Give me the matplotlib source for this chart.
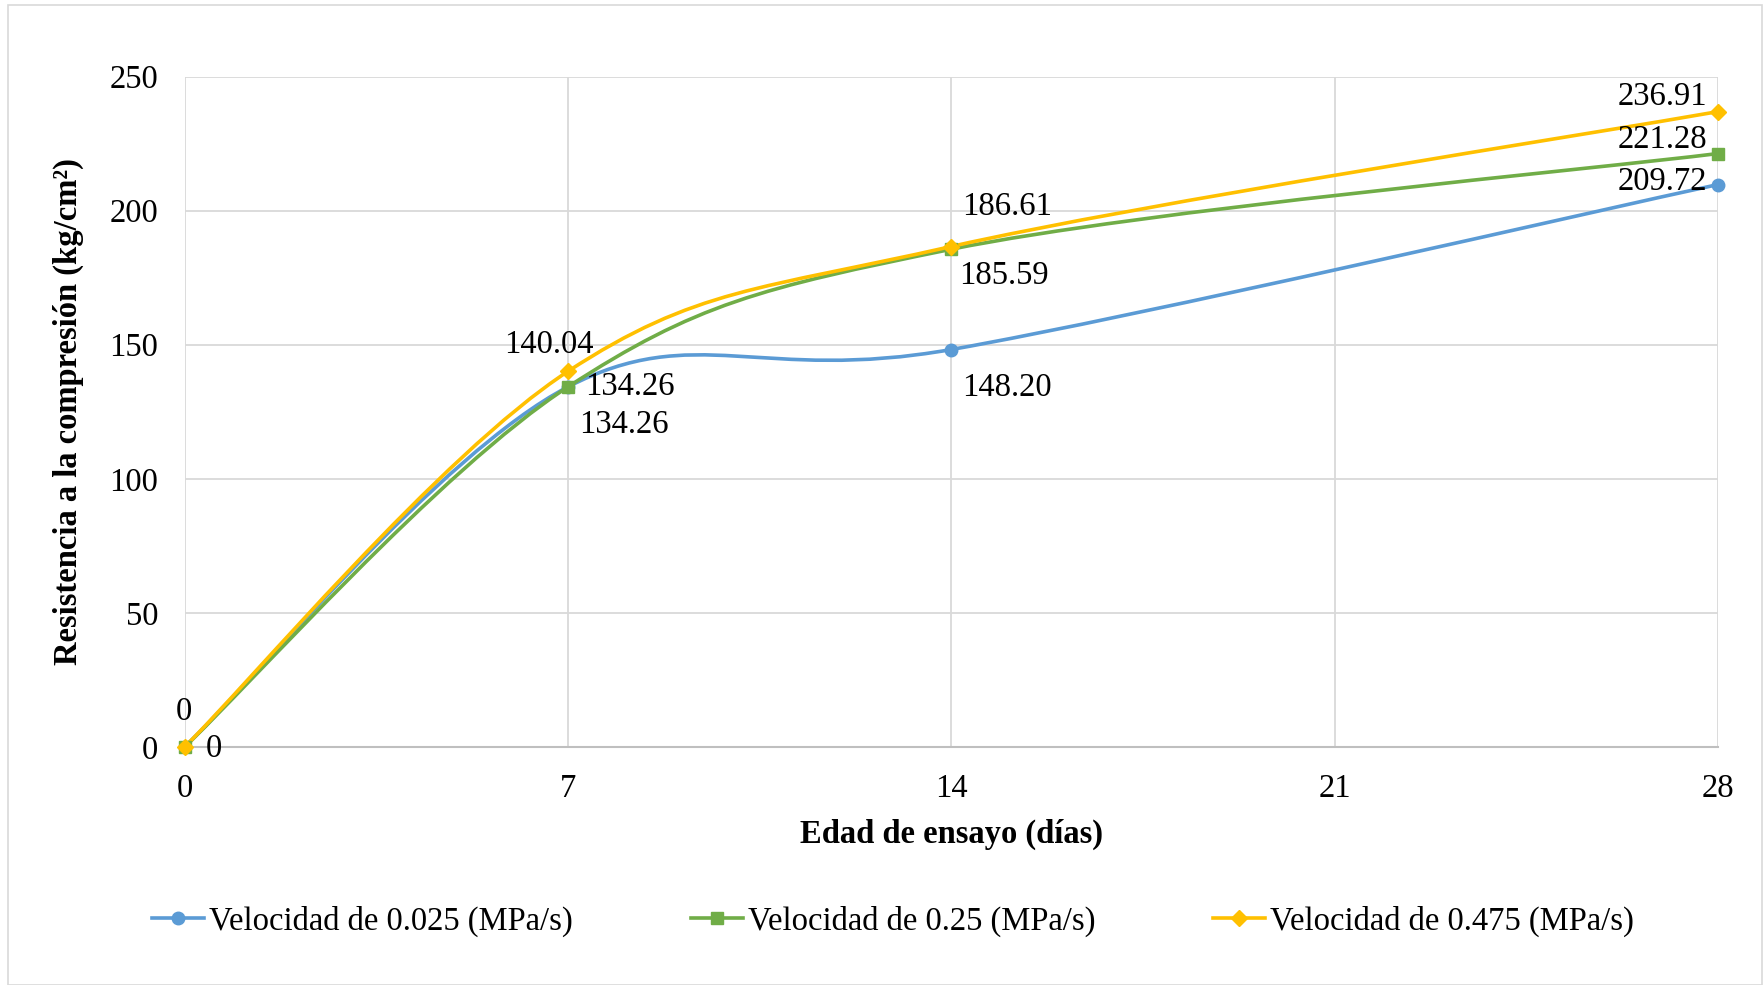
import numpy as np
import matplotlib
matplotlib.use("Agg")
import matplotlib.pyplot as plt
from matplotlib.path import Path
from matplotlib.patches import PathPatch, Rectangle
from matplotlib.lines import Line2D

plt.rcParams['font.family'] = ['Liberation Serif', 'DejaVu Serif']

# Test ages (days) and compressive strength per loading rate
edad = [0, 7, 14, 28]
v_0025 = [0, 134.26, 148.20, 209.72]
v_025 = [0, 134.26, 185.59, 221.28]
v_0475 = [0, 140.04, 186.61, 236.91]

series_names = ["Velocidad de 0.025 (MPa/s)",
                "Velocidad de 0.25 (MPa/s)",
                "Velocidad de 0.475 (MPa/s)"]
xticks = [0, 7, 14, 21, 28]
yticks = [0, 50, 100, 150, 200, 250]

colors = ["#5B9BD5", "#70AD47", "#FFC000"]
markers = ["o", "s", "D"]
msizes = [9, 9, 8]
FS = 23.5

# label placement: (dx, dy) in pixels relative to each point, None = no label
label_offsets = [
    [(29, -2), (56, -38), (56, -38), (-56, 3)],
    [None, (62, 0), (53, -27), (-56, 14)],
    [(-1, 35), (-19, 27), (56, 40), (-56, 15)],
]


def smooth_path(xs, ys):
    """Cubic Bezier path through the points (Catmull-Rom style tangents)."""
    pts = np.column_stack([xs, ys]).astype(float)
    n = len(pts)
    verts = [pts[0]]
    codes = [Path.MOVETO]
    for i in range(n - 1):
        p0 = pts[i - 1] if i > 0 else pts[i]
        p1 = pts[i]
        p2 = pts[i + 1]
        p3 = pts[i + 2] if i + 2 < n else pts[i + 1]
        c1 = p1 + (p2 - p0) / 6.0
        c2 = p2 - (p3 - p1) / 6.0
        verts += [c1, c2, p2]
        codes += [Path.CURVE4] * 3
    return Path(verts, codes)


W, H = 1764, 985
fig = plt.figure(figsize=(W / 100, H / 100), dpi=100)

# chart area frame
fig.patches.append(Rectangle((8 / W, 0), (1762 - 8) / W, 1 - 5 / H,
                             transform=fig.transFigure, fill=False,
                             edgecolor="#D9D9D9", linewidth=1.2))

ax = fig.add_axes([184.5 / W, 1 - 747 / H, (1718 - 184.5) / W, (747 - 76.5) / H])
ax.set_xlim(0, 28)
ax.set_ylim(0, 250)
ax.set_xticks(xticks)
ax.set_yticks(yticks)
ax.grid(True, color="#D9D9D9", linewidth=1.3)
ax.set_axisbelow(True)
for side in ["top", "right", "left"]:
    ax.spines[side].set_visible(False)
ax.spines["bottom"].set_color("#BFBFBF")
ax.spines["bottom"].set_linewidth(1.5)
ax.tick_params(length=0, labelsize=FS, colors="black")
ax.tick_params(axis="x", pad=19)
ax.tick_params(axis="y", pad=19)

ax.set_xlabel("Edad de ensayo (días)", fontsize=FS, fontweight="bold", labelpad=11)
ax.set_ylabel("Resistencia a la compresión (kg/cm²)", fontsize=FS,
              fontweight="bold", labelpad=18)

data = [v_0025, v_025, v_0475]
handles = []
for vals, c, m, ms, offs, name in zip(data, colors, markers, msizes,
                                      label_offsets, series_names):
    ax.add_patch(PathPatch(smooth_path(edad, vals), facecolor="none",
                           edgecolor=c, linewidth=2.6, zorder=3,
                           capstyle="round", joinstyle="round"))
    ax.plot(edad, vals, linestyle="none", marker=m, markersize=ms,
            color=c, zorder=4, clip_on=False)
    for x, v, off in zip(edad, vals, offs):
        if off is None:
            continue
        txt = "0" if v == 0 else f"{v:.2f}"
        ax.annotate(txt, (x, v), xytext=off, textcoords="offset pixels",
                    ha="center", va="center", fontsize=FS, zorder=5,
                    annotation_clip=False)
    handles.append(Line2D([0], [0], color=c, linewidth=2.6, marker=m,
                          markersize=ms, label=name))

fig.legend(handles=handles, loc="center",
           bbox_to_anchor=(0.5 + 11 / W, 1 - 921 / H),
           ncol=3, frameon=False, fontsize=FS, handlelength=1.6,
           handletextpad=0.15, columnspacing=3.6)

fig.savefig("out.png", dpi=100)
